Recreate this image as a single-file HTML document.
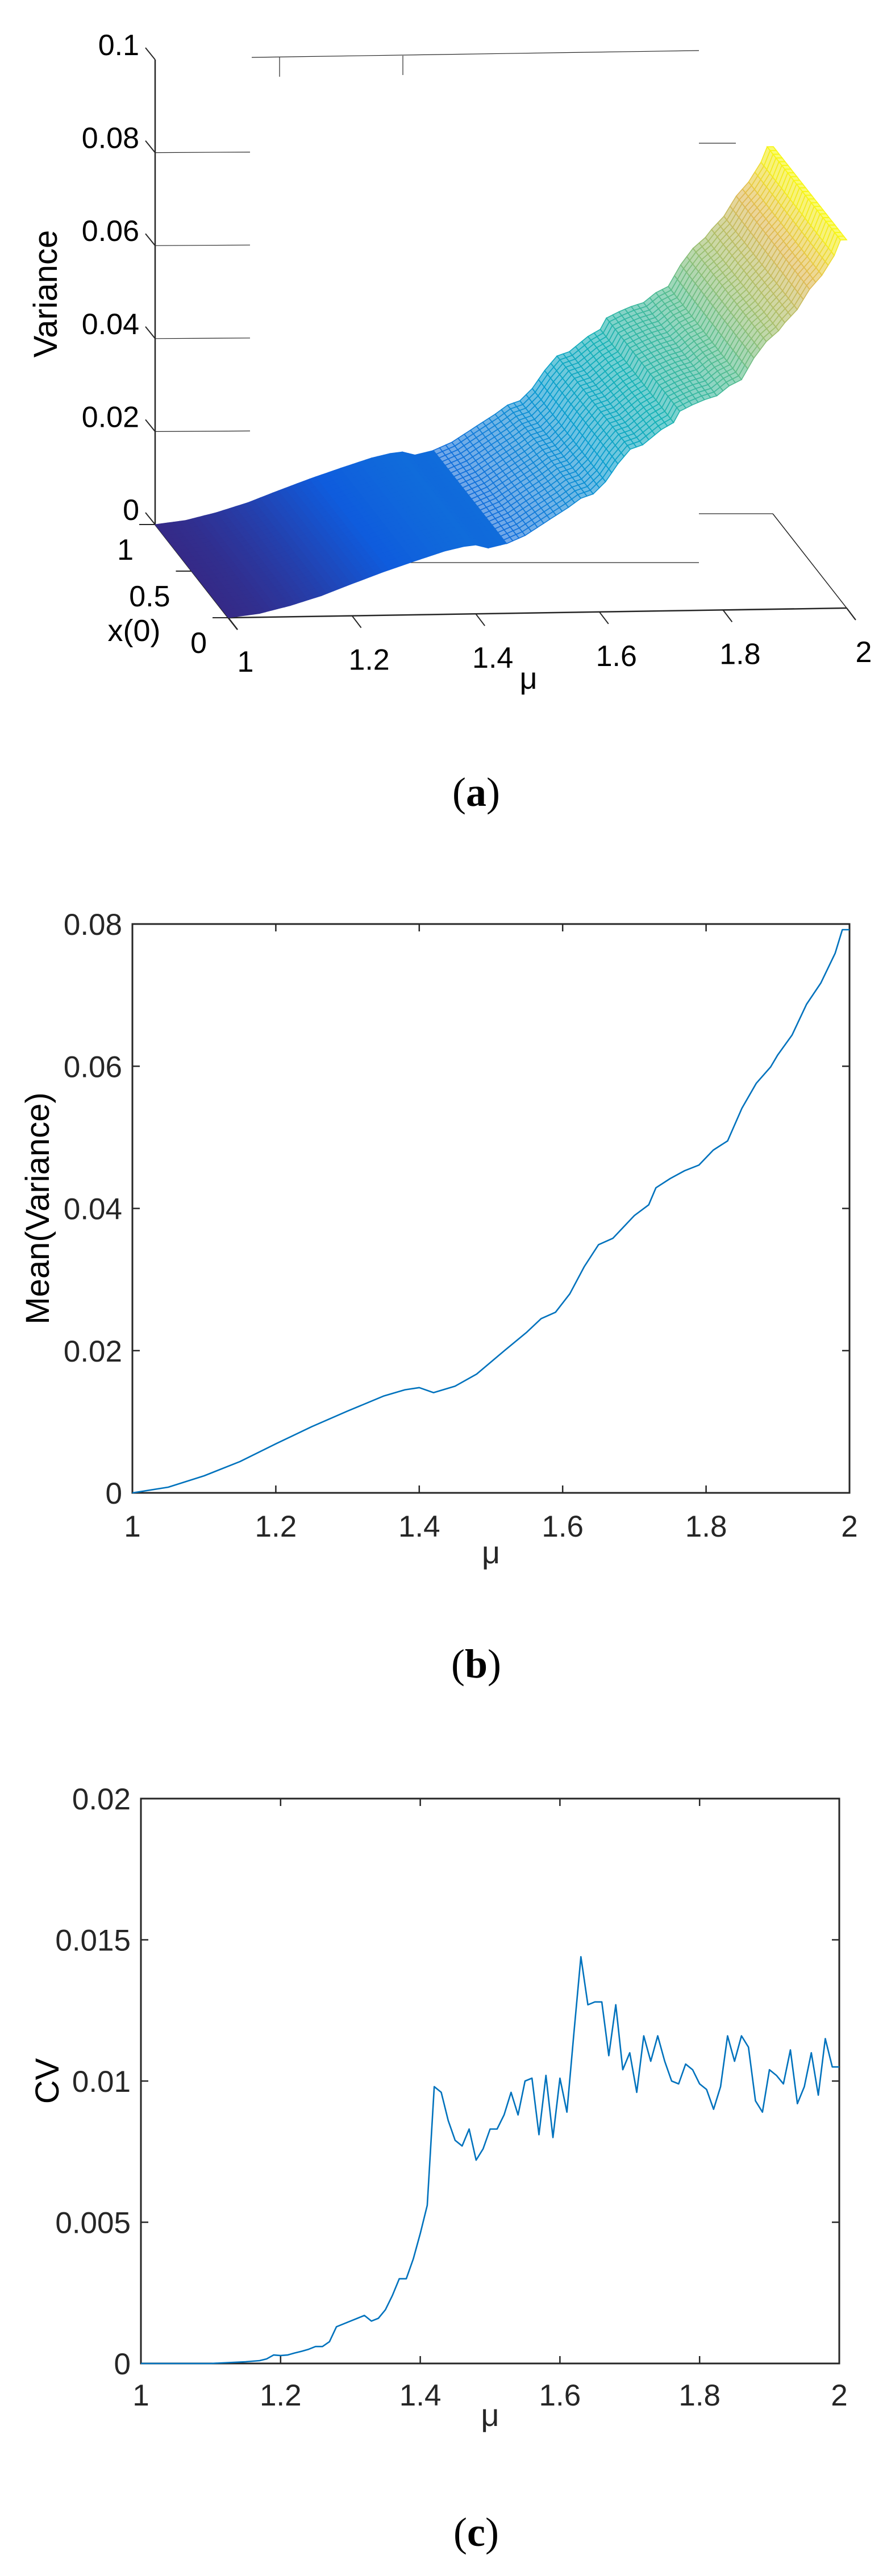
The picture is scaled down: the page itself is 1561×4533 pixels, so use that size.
<!DOCTYPE html>
<html><head><meta charset="utf-8"><title>Variance figure</title>
<style>
html,body{margin:0;padding:0;background:#fff;}
svg{display:block;}
text{font-family:"Liberation Sans",Arial,sans-serif;fill:#262626;}
.cap{font-family:"Liberation Serif",serif;fill:#000;}
</style></head>
<body>
<svg id="fig" width="1561" height="4533" viewBox="0 0 1561 4533" xmlns="http://www.w3.org/2000/svg">
<g id="pa"></g>
<g id="pb"></g>
<g id="pc"></g>
<text class="cap" x="838" y="1418" font-size="72" text-anchor="middle">(<tspan font-weight="bold">a</tspan>)</text>
<text class="cap" x="838" y="2952" font-size="72" text-anchor="middle">(<tspan font-weight="bold">b</tspan>)</text>
<text class="cap" x="838" y="4480" font-size="72" text-anchor="middle">(<tspan font-weight="bold">c</tspan>)</text>
</svg>
<script>
// ---- Data ----
const muB = [1.0,1.05,1.1,1.15,1.2,1.25,1.3,1.35,1.38,1.4,1.42,1.45,1.48,1.5,1.52,1.55,1.57,1.59,1.61,1.63,1.65,1.67,1.7,1.72,1.73,1.75,1.77,1.79,1.81,1.83,1.85,1.87,1.89,1.9,1.92,1.94,1.96,1.98,1.99,2.0];
const meanVar = [0,0.0008,0.0024,0.0044,0.0069,0.0093,0.0115,0.0136,0.0145,0.0148,0.0141,0.0150,0.0167,0.0184,0.0201,0.0226,0.0245,0.0254,0.0280,0.0318,0.0349,0.0358,0.0390,0.0405,0.0429,0.0442,0.0453,0.0461,0.0482,0.0495,0.0541,0.0576,0.0599,0.0616,0.0644,0.0687,0.0717,0.0759,0.0792,0.0792];
const muC = [1.0,1.05,1.1,1.15,1.17,1.18,1.19,1.2,1.21,1.22,1.23,1.24,1.25,1.26,1.27,1.28,1.29,1.3,1.31,1.32,1.33,1.34,1.35,1.36,1.37,1.38,1.39,1.4,1.41,1.42,1.43,1.44,1.45,1.46,1.47,1.48,1.49,1.5,1.51,1.52,1.53,1.54,1.55,1.56,1.57,1.58,1.59,1.6,1.61,1.62,1.63,1.64,1.65,1.66,1.67,1.68,1.69,1.7,1.71,1.72,1.73,1.74,1.75,1.76,1.77,1.78,1.79,1.8,1.81,1.82,1.83,1.84,1.85,1.86,1.87,1.88,1.89,1.9,1.91,1.92,1.93,1.94,1.95,1.96,1.97,1.98,1.99,2.0];
const cvVals = [0,0,0,0.00006,0.0001,0.00016,0.0003,0.00028,0.0003,0.00037,0.00043,0.0005,0.0006,0.0006,0.00077,0.0013,0.0014,0.0015,0.0016,0.0017,0.0015,0.0016,0.0019,0.0024,0.003,0.003,0.0037,0.0046,0.0056,0.0098,0.0096,0.0086,0.0079,0.0077,0.0083,0.0072,0.0076,0.0083,0.0083,0.0088,0.0096,0.0088,0.0100,0.0101,0.0081,0.0102,0.0080,0.0101,0.0089,0.0117,0.0144,0.0127,0.0128,0.0128,0.0109,0.0127,0.0104,0.0110,0.0096,0.0116,0.0107,0.0116,0.0107,0.0100,0.0099,0.0106,0.0104,0.0099,0.0097,0.0090,0.0098,0.0116,0.0107,0.0116,0.0112,0.0093,0.0089,0.0104,0.0102,0.0099,0.0111,0.0092,0.0098,0.0110,0.0095,0.0115,0.0105,0.0105];
const xTicks = [1,1.2,1.4,1.6,1.8,2];
const xTickLabels = ["1","1.2","1.4","1.6","1.8","2"];
const bYTicks = [0,0.02,0.04,0.06,0.08];
const bYTickLabels = ["0","0.02","0.04","0.06","0.08"];
const cYTicks = [0,0.005,0.01,0.015,0.02];
const cYTickLabels = ["0","0.005","0.01","0.015","0.02"];
const aZTicks = [0,0.02,0.04,0.06,0.08,0.1];
const aZTickLabels = ["0","0.02","0.04","0.06","0.08","0.1"];
const aX0Ticks = [0,0.5,1];
const aX0TickLabels = ["0","0.5","1"];

const NS = "http://www.w3.org/2000/svg";
function mk(parent, tag, attrs){const e=document.createElementNS(NS,tag);for(const k in attrs)e.setAttribute(k,attrs[k]);parent.appendChild(e);return e;}
function interp(xs, ys, x){ if(x<=xs[0])return ys[0]; for(let i=1;i<xs.length;i++){ if(x<=xs[i]){const t=(x-xs[i-1])/(xs[i]-xs[i-1]);return ys[i-1]+t*(ys[i]-ys[i-1]);} } return ys[ys.length-1]; }

// ---- 2D line plot ----
function plot2D(g, box, xs, ys, yTicks, yLabels, yMax, yTitle, yTitleX, lblOff, muOff){
  const sx = v => box.x0 + (v-1)*(box.x1-box.x0);
  const sy = v => box.y1 - v/yMax*(box.y1-box.y0);
  let r = mk(g,'rect',{x:box.x0,y:box.y0,width:box.x1-box.x0,height:box.y1-box.y0,fill:'none',stroke:'#262626','stroke-width':3});
   
  xTicks.forEach((t,i)=>{
    const x=sx(t);
    let l=mk(g,'line',{x1:x,y1:box.y1,x2:x,y2:box.y1-13,stroke:'#262626','stroke-width':2.5});
     
    mk(g,'line',{x1:x,y1:box.y0,x2:x,y2:box.y0+13,stroke:'#262626','stroke-width':2.5});
    let tx=mk(g,'text',{x:x,y:box.y1+lblOff,'font-size':53,'text-anchor':'middle'}); tx.textContent=xTickLabels[i];
     
  });
  yTicks.forEach((t,i)=>{
    const y=sy(t);
    let l=mk(g,'line',{x1:box.x0,y1:y,x2:box.x0+13,y2:y,stroke:'#262626','stroke-width':2.5});
     
    mk(g,'line',{x1:box.x1,y1:y,x2:box.x1-13,y2:y,stroke:'#262626','stroke-width':2.5});
    let tx=mk(g,'text',{x:box.x0-18,y:y+19,'font-size':53,'text-anchor':'end'}); tx.textContent=yLabels[i];
     
  });
  let xl=mk(g,'text',{x:(box.x0+box.x1)/2,y:box.y1+muOff,'font-size':56,'text-anchor':'middle'}); xl.textContent='μ';
   
  const cy=(box.y0+box.y1)/2;
  let yl=mk(g,'text',{x:yTitleX,y:cy,'font-size':58,'text-anchor':'middle',transform:`rotate(-90 ${yTitleX} ${cy})`,style:'fill:#000'}); yl.textContent=yTitle;
   
  const d = xs.map((v,i)=>(i?'L':'M')+sx(v).toFixed(1)+','+sy(ys[i]).toFixed(1)).join(' ');
  let p=mk(g,'path',{d:d,fill:'none',stroke:'#0072BD','stroke-width':2.6,'stroke-linejoin':'round'});
   
}
plot2D(document.getElementById('pb'), {x0:233,x1:1495,y0:1626,y1:2627}, muB, meanVar, bYTicks, bYTickLabels, 0.08, 'Mean(Variance)', 86, 77, 124);
plot2D(document.getElementById('pc'), {x0:248,x1:1477,y0:3165,y1:4159}, muC, cvVals, cYTicks, cYTickLabels, 0.02, 'CV', 103, 74, 110);

// ---- 3D surface (a) ----
(function(){
  const g=document.getElementById('pa');
  const P=(mu,x0,z)=>[402+(mu-1)*1088-x0*129, 1087-(mu-1)*17-x0*164-z*8180];
  const stops=[[53,42,135],[15,92,221],[18,125,216],[7,156,207],[21,177,180],[89,189,140],[165,190,107],[225,185,82],[249,251,14]];
  function parula(t){t=Math.max(0,Math.min(1,t));const f=t*8;const i=Math.min(7,Math.floor(f));const u=f-i;const a=stops[i],b=stops[i+1];return `rgb(${Math.round(a[0]+u*(b[0]-a[0]))},${Math.round(a[1]+u*(b[1]-a[1]))},${Math.round(a[2]+u*(b[2]-a[2]))})`;}
  const line=(x1,y1,x2,y2,name,w)=>{let l=mk(g,'line',{x1,y1,x2,y2,stroke:'#262626','stroke-width':w||2});return l;};
  line(273,105,273,923,'z-axis',2.5);
  line(273,923,418,1108,'x0-axis',2.5);
  line(402,1087,1490,1070,'mu-axis',2.5);
  line(1360,904,1490,1070,'x0-axis-back',1.5);
  line(1490,1070,1505,1090,'x0-axis-tick',2);
  line(1230,904,1360,904,'back-edge',1.2);
  line(690,990,1230,990,'grid-tick-line',1.2);
  line(1230,252,1295,252,'grid-tick-line',1.2);
  line(443,101,1230,89,'top-edge',1.2);
  line(492,101,492,135,'top-tick',1.2);
  line(709,98,709,132,'top-tick',1.2);
  aZTicks.forEach((t,i)=>{
    const y=923-t*8180;
    line(256,y-21,273,y,'z-tick',2);
    if(t>0 && t<0.1) line(273,y,440,y-1,'z-grid-tick',1.2);
    let tx=mk(g,'text',{x:245,y:y-8,'font-size':52,'text-anchor':'end',style:'fill:#000'});tx.textContent=aZTickLabels[i];
    
  });
  aX0Ticks.forEach((t,i)=>{
    const p=P(1,t,0);
    line(p[0]-28,p[1],p[0],p[1],'x0-tick',2);
    let tx=mk(g,'text',{x:p[0]-38,y:p[1]+62,'font-size':52,'text-anchor':'end',style:'fill:#000'});tx.textContent=aX0TickLabels[i];
    
  });
  xTicks.forEach((t,i)=>{
    const p=P(t,0,0);
    line(p[0],p[1],p[0]+16,p[1]+21,'mu-tick',2);
    let tx=mk(g,'text',{x:p[0]+30,y:p[1]+95,'font-size':52,'text-anchor':'middle',style:'fill:#000'});tx.textContent=xTickLabels[i];
    
  });
  let t1=mk(g,'text',{x:236,y:1128,'font-size':54,'text-anchor':'middle',style:'fill:#000'});t1.textContent='x(0)';
  
  let t2=mk(g,'text',{x:930,y:1212,'font-size':54,'text-anchor':'middle',style:'fill:#000'});t2.textContent='μ';
  
  let t3=mk(g,'text',{x:100,y:517,'font-size':58,'text-anchor':'middle',transform:'rotate(-90 100 517)',style:'fill:#000'});t3.textContent='Variance';
  
  const sg=mk(g,'g',{});
  
  const NM=100, NX=25;
  for(let j=NX-1;j>=0;j--){
    for(let i=0;i<NM;i++){
      const m0=1+i/NM, m1=1+(i+1)/NM, a0=j/NX, a1=(j+1)/NX;
      const z0=interp(muB,meanVar,m0), z1=interp(muB,meanVar,m1);
      const pts=[P(m0,a0,z0),P(m1,a0,z1),P(m1,a1,z1),P(m0,a1,z0)];
      const c=parula((z0+z1)/2/0.08);
      const d=pts.map(p=>p[0].toFixed(1)+','+p[1].toFixed(1)).join(' ');
      if(m0<1.45){
        mk(sg,'polygon',{points:d,fill:c,stroke:c,'stroke-width':1});
      } else {
        mk(sg,'polygon',{points:d,fill:c,'fill-opacity':0.6,stroke:c,'stroke-width':1.6});
      }
    }
  }
})();
</script>
</body></html>
